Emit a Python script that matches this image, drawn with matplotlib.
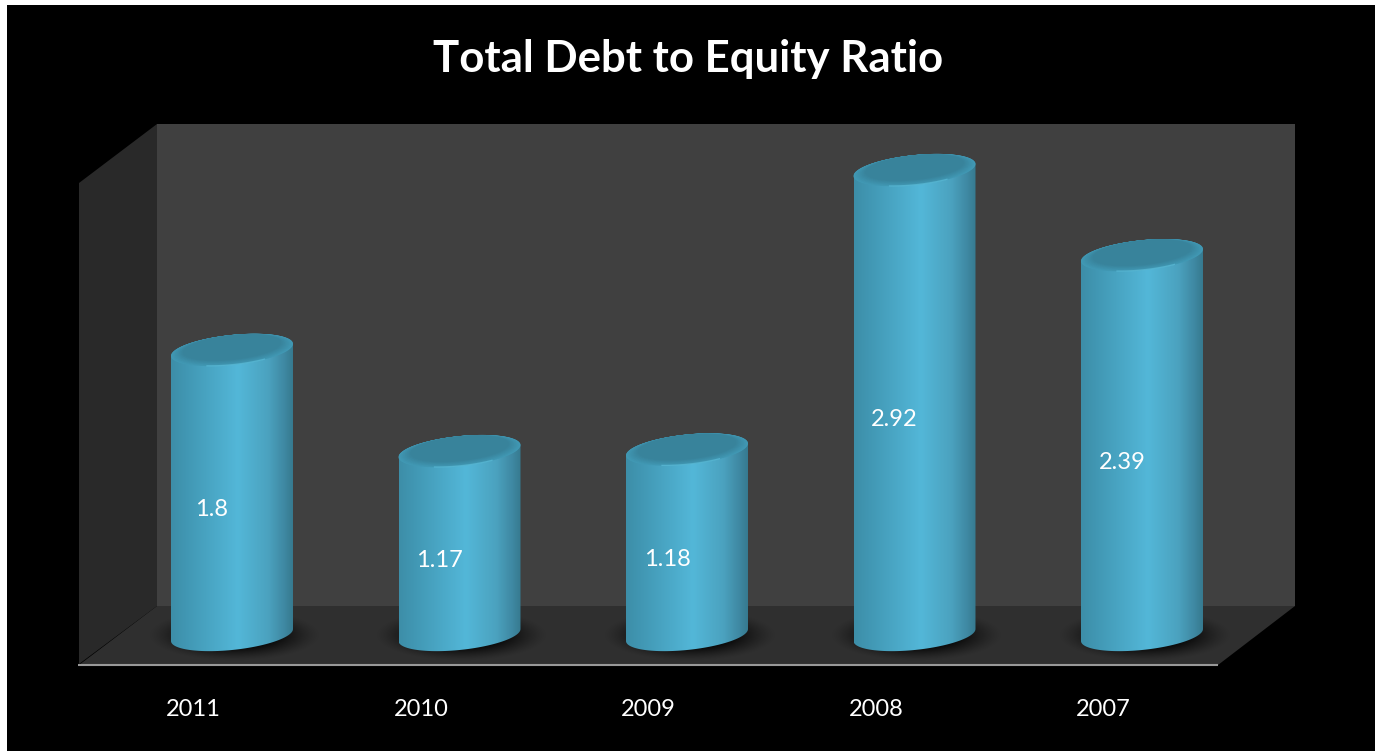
import numpy as np
import matplotlib
matplotlib.use('Agg')
import matplotlib.pyplot as plt
from matplotlib.patches import Polygon, Rectangle
from matplotlib.colors import LinearSegmentedColormap, to_rgb

years = ['2011', '2010', '2009', '2008', '2007']
ratios = [1.8, 1.17, 1.18, 2.92, 2.39]
title = 'Total Debt to Equity Ratio'

W, H = 1375, 751
BASE_Y = 639        # pixel row of value zero
PX_PER_UNIT = 160.6
FIRST_X = 232
STEP_X = 227.5
A = 61              # half width of a cylinder
TILT = 6
B = 15
FOOT_LIFT = 4       # foot ellipse sits a little above value zero

plt.rcParams['font.family'] = ['Lato', 'DejaVu Sans']
fig = plt.figure(figsize=(W / 100, H / 100), dpi=100, facecolor='white')

# box chrome lives in pixel coordinates
bg = fig.add_axes([0, 0, 1, 1])
bg.set_xlim(0, W)
bg.set_ylim(H, 0)
bg.axis('off')
bg.add_patch(Rectangle((7, 5), W, H, fc='black', ec='none'))
bg.add_patch(Polygon([(157, 124), (1295, 124), (1295, 606), (157, 606)], fc='#404040', ec='none'))
bg.add_patch(Polygon([(79, 183), (157, 124), (157, 606), (79, 664)], fc='#292929', ec='none'))
bg.add_patch(Polygon([(157, 606), (1295, 606), (1218, 665), (79, 665)], fc='#2f2f2f', ec='none'))
bg.plot([78, 1218], [665, 665], color='#999999', lw=1.5, solid_capstyle='butt')

# value axes on top, sharing the same canvas
ax = fig.add_axes([0, 0, 1, 1], facecolor='none')
ax.axis('off')

body_cmap = LinearSegmentedColormap.from_list('body', [
    (0.0, '#3d8ea8'), (0.12, '#4197b3'), (0.55, '#53b7d8'),
    (0.8, '#4ba2bf'), (0.93, '#3f89a3'), (1.0, '#367a90')])


def ellipse(x, y, scale=1.0):
    t = np.linspace(0, 2 * np.pi, 180)
    dx = A * scale * np.cos(t) / STEP_X
    dy = (TILT * np.cos(t) + B * np.sin(t)) * scale / PX_PER_UNIT
    return np.column_stack([x + dx, y + dy])


def shadow(x):
    # soft dark pool on the floor around a cylinder foot
    gx, gy = np.meshgrid(np.linspace(-1.5, 1.5, 200), np.linspace(-1.5, 1.5, 80))
    r = np.sqrt(gx ** 2 + gy ** 2)
    rgba = np.zeros(r.shape + (4,))
    rgba[..., 3] = np.clip((1.5 - r) / 0.75, 0, 1) ** 1.3 * 0.8
    half_w = 57 * 1.5 / STEP_X
    half_h = 17 * 1.5 / PX_PER_UNIT
    foot = FOOT_LIFT / PX_PER_UNIT
    ax.imshow(rgba, extent=(x - half_w + 2 / STEP_X, x + half_w + 2 / STEP_X, foot - half_h, foot + half_h),
              origin='lower', aspect='auto', zorder=1, interpolation='bilinear')


def cylinder(x, value, z=2):
    half = A / STEP_X
    foot = FOOT_LIFT / PX_PER_UNIT
    # body outline: front of the foot ellipse, then back over the top ellipse
    t = np.linspace(0, np.pi, 90)
    low = np.column_stack([x + half * np.cos(t), foot + (TILT * np.cos(t) - B * np.sin(t)) / PX_PER_UNIT])
    high = np.column_stack([x + half * np.cos(t), value + (TILT * np.cos(t) + B * np.sin(t)) / PX_PER_UNIT])
    outline = Polygon(np.vstack([low, high[::-1]]), transform=ax.transData, fc='none', ec='none')
    ax.add_patch(outline)
    grad = np.linspace(0, 1, 240).reshape(1, -1)
    im = ax.imshow(grad, cmap=body_cmap, extent=(x - half, x + half, -1, value + 1), aspect='auto',
                   zorder=z, interpolation='bilinear')
    im.set_clip_path(outline)

    # top face: rim fades into a darker centre pushed towards the back edge
    rim = np.array(to_rgb('#4199b5'))
    inner = np.array(to_rgb('#38839b'))
    n = 16
    for i, s in enumerate(np.linspace(1, 0.8, n)):
        f = i / (n - 1)
        lift = 2.5 * f / PX_PER_UNIT
        ax.add_patch(Polygon(ellipse(x, value + lift, s), fc=rim + (inner - rim) * f, ec='none', zorder=z + 1))
    # thin highlight along the front rim
    t = np.linspace(-2.0, -1.0, 40)
    hx = x + A * 0.985 * np.cos(t) / STEP_X
    hy = value + (TILT * np.cos(t) + B * np.sin(t)) * 0.985 / PX_PER_UNIT
    ax.plot(hx, hy, color='#5cbcd8', lw=0.9, alpha=0.7, zorder=z + 2)


for i in range(len(ratios)):
    shadow(i)
for i, v in enumerate(ratios):
    cylinder(i, v)
    # value label sits a bit left of and below the cylinder centre
    ax.annotate(str(v), (i, v / 2), xytext=(-20 * 0.72, -15 * 0.72), textcoords='offset points',
                color='white', fontsize=17, ha='center', va='center', zorder=6)

ax.set_xlim(-FIRST_X / STEP_X, (W - FIRST_X) / STEP_X)
ax.set_ylim((BASE_Y - H) / PX_PER_UNIT, BASE_Y / PX_PER_UNIT)

for i, y in enumerate(years):
    bg.text(FIRST_X + STEP_X * i - 38.5, 710, y, color='white', fontsize=17, ha='center', va='center')

bg.text(688, 59, title, color='white', fontsize=31.5, fontweight='bold', ha='center', va='center')

fig.savefig('out.png', dpi=100, facecolor='white')
